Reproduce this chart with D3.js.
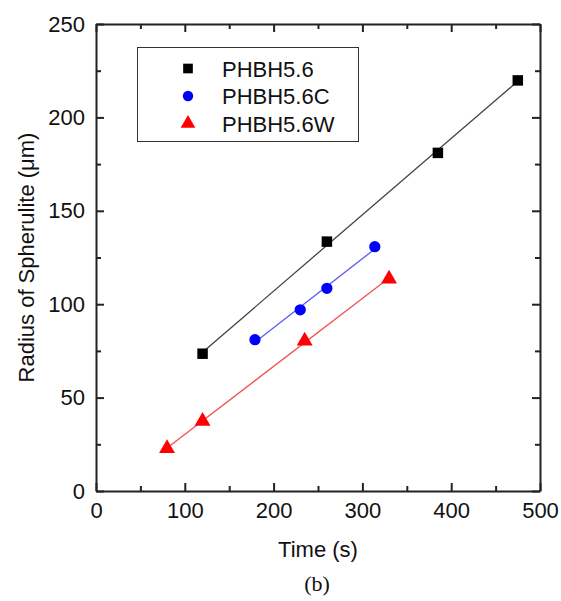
<!DOCTYPE html>
<html>
<head>
<meta charset="utf-8">
<script src="https://d3js.org/d3.v7.min.js"></script>
<style>
  body { margin: 0; background: #fff; }
  text { font-family: "Liberation Sans", Arial, sans-serif; fill: #111; }
</style>
</head>
<body>
<div id="chart"></div>
<script>
// series data
const seriesNames = ["PHBH5.6", "PHBH5.6C", "PHBH5.6W"];
const timeBlack = [120, 260, 385, 475];
const radiusBlack = [73.5, 133.5, 181, 219.8];
const timeBlue = [179, 230, 260, 314];
const radiusBlue = [81, 97, 108.5, 130.8];
const timeRed = [80, 120, 235, 330];
const radiusRed = [22.8, 37.4, 80.3, 113.5];
const xTicks = [0, 100, 200, 300, 400, 500];
const yTicks = [0, 50, 100, 150, 200, 250];

const width = 561, height = 601;
const margin = {left: 96, right: 21, top: 24, bottom: 110};
const fontSize = 22;

const svg = d3.select("#chart").append("svg")
    .attr("width", width)
    .attr("height", height);

const x = d3.scaleLinear().domain([0, 500]).range([margin.left, width - margin.right]);
const y = d3.scaleLinear().domain([0, 250]).range([height - margin.bottom, margin.top]);

const series = [
    {name: seriesNames[0], xs: timeBlack, ys: radiusBlack, color: "#000", line: "#444", shape: d3.symbolSquare, size: 110},
    {name: seriesNames[1], xs: timeBlue, ys: radiusBlue, color: "#0000ff", line: "#5b5bf0", shape: d3.symbolCircle, size: 100},
    {name: seriesNames[2], xs: timeRed, ys: radiusRed, color: "#ff0000", line: "#f05050", shape: d3.symbolTriangle, size: 110}
];

// axes: ticks point inward, minor ticks between majors
const minorX = d3.range(0, 501, 50);
const minorY = d3.range(0, 251, 25);

function drawAxis(axis, transform, labels) {
    const g = svg.append("g").attr("transform", transform).call(axis);
    g.select(".domain").attr("stroke", "#222").attr("stroke-width", 2);
    g.selectAll(".tick line").attr("stroke", "#222").attr("stroke-width", 2);
    g.selectAll("text").attr("font-size", fontSize).attr("fill", "#111");
    if (!labels) g.selectAll("text").remove();
    return g;
}

const fmt = d => (xTicks.includes(d) ? d : "");
const fmtY = d => (yTicks.includes(d) ? d : "");

const axBottom = drawAxis(d3.axisBottom(x).tickValues(minorX).tickFormat(fmt).tickSizeInner(-8).tickSizeOuter(0).tickPadding(11),
    `translate(0,${y(0)})`, true);
axBottom.selectAll(".tick").filter(d => !xTicks.includes(d)).select("line").attr("y2", -5);
const axTop = drawAxis(d3.axisTop(x).tickValues(minorX).tickSizeInner(-8).tickSizeOuter(0),
    `translate(0,${y(250)})`, false);
axTop.selectAll(".tick").filter(d => !xTicks.includes(d)).select("line").attr("y2", 5);
const axLeft = drawAxis(d3.axisLeft(y).tickValues(minorY).tickFormat(fmtY).tickSizeInner(-8).tickSizeOuter(0).tickPadding(11),
    `translate(${x(0)},0)`, true);
axLeft.selectAll(".tick").filter(d => !yTicks.includes(d)).select("line").attr("x2", 5);
const axRight = drawAxis(d3.axisRight(y).tickValues(minorY).tickSizeInner(-8).tickSizeOuter(0),
    `translate(${x(500)},0)`, false);
axRight.selectAll(".tick").filter(d => !yTicks.includes(d)).select("line").attr("x2", -5);

// linear fit lines
series.forEach(s => {
    const mx = d3.mean(s.xs), my = d3.mean(s.ys);
    const slope = d3.sum(s.xs, (v, i) => (v - mx) * (s.ys[i] - my)) / d3.sum(s.xs, v => (v - mx) ** 2);
    const icpt = my - slope * mx;
    const x0 = d3.min(s.xs), x1 = d3.max(s.xs);
    svg.append("line")
        .attr("x1", x(x0)).attr("y1", y(icpt + slope * x0))
        .attr("x2", x(x1)).attr("y2", y(icpt + slope * x1))
        .attr("stroke", s.line).attr("stroke-width", 1.3);
});

// markers
series.forEach(s => {
    svg.append("g").selectAll("path")
        .data(s.xs.map((v, i) => [v, s.ys[i]]))
        .enter().append("path")
        .attr("d", d3.symbol().type(s.shape).size(s.size))
        .attr("transform", d => `translate(${x(d[0])},${y(d[1])})`)
        .attr("fill", s.color);
});

// legend
const leg = svg.append("g");
leg.append("rect")
    .attr("x", 137.5).attr("y", 47.5).attr("width", 221).attr("height", 94)
    .attr("fill", "#fff").attr("stroke", "#333").attr("stroke-width", 1);
series.forEach((s, i) => {
    const cy = 68.5 + i * 27.5;
    leg.append("path")
        .attr("d", d3.symbol().type(s.shape).size(s.size * 0.85))
        .attr("transform", `translate(188,${cy})`)
        .attr("fill", s.color);
    leg.append("text")
        .attr("x", 222).attr("y", cy + 8)
        .attr("font-size", fontSize)
        .text(s.name);
});

// axis titles
svg.append("text")
    .attr("x", x(250)).attr("y", 557)
    .attr("text-anchor", "middle").attr("font-size", fontSize)
    .text("Time (s)");
svg.append("text")
    .attr("transform", `translate(34,${y(125)}) rotate(-90)`)
    .attr("text-anchor", "middle").attr("font-size", fontSize)
    .text("Radius of Spherulite (\u03bcm)");
svg.append("text")
    .attr("x", x(250) - 1).attr("y", 591)
    .attr("text-anchor", "middle").attr("font-size", 22)
    .style("font-family", "'Liberation Serif', 'Times New Roman', serif")
    .text("(b)");
</script>
</body>
</html>
